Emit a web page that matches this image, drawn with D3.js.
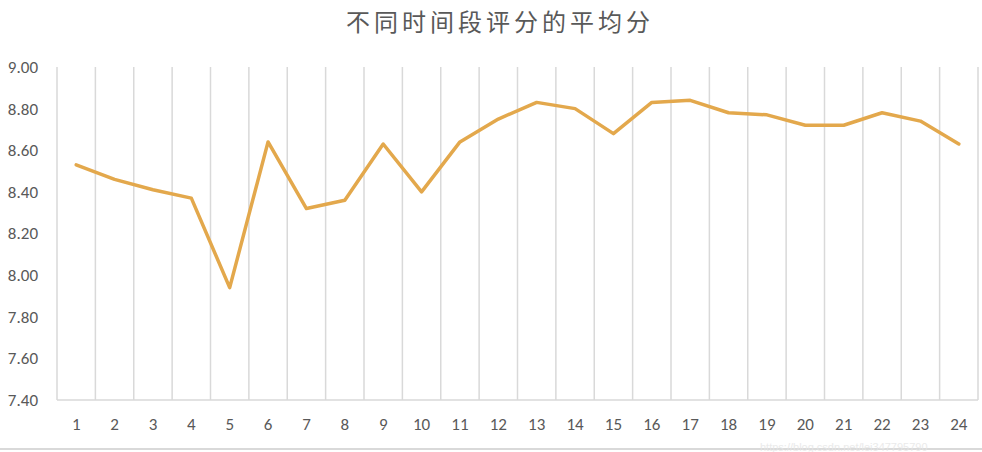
<!DOCTYPE html>
<html><head><meta charset="utf-8">
<script src="https://cdn.jsdelivr.net/npm/d3@7"></script>
<style>html,body{margin:0;padding:0;background:#fff;}</style>
</head><body>
<svg id="c" width="982" height="452"></svg>
<script>
const title = "不同时间段评分的平均分";
const categories = ["1","2","3","4","5","6","7","8","9","10","11","12","13","14","15","16","17","18","19","20","21","22","23","24"];
const values = [8.53,8.46,8.41,8.37,7.94,8.64,8.32,8.36,8.63,8.40,8.64,8.75,8.83,8.80,8.68,8.83,8.84,8.78,8.77,8.72,8.72,8.78,8.74,8.63];
const yTicks = [7.40,7.60,7.80,8.00,8.20,8.40,8.60,8.80,9.00];
const watermark = "https://blog.csdn.net/lei347795790";

(function(){
const svg = d3.select("#c");
const pL = 57, pR = 978, pT = 67, pB = 400;
const font = "Carlito, Calibri, 'Liberation Sans', 'Noto Sans', sans-serif";

const x = d3.scaleBand().domain(categories).range([pL, pR]);
const y = d3.scaleLinear().domain([7.4, 9.0]).range([pB, pT]);

const bounds = categories.map(c => x(c)).concat([x(categories[categories.length-1]) + x.bandwidth()]);
svg.append("g").selectAll("line").data(bounds).join("line")
  .attr("x1", d => d).attr("x2", d => d)
  .attr("y1", pT).attr("y2", pB)
  .attr("stroke", "#d9d9d9").attr("stroke-width", 1.5);

svg.append("line").attr("x1", pL).attr("x2", pR).attr("y1", pB).attr("y2", pB)
  .attr("stroke", "#d9d9d9").attr("stroke-width", 1.5);

const yAxis = d3.axisLeft(y).tickValues(yTicks).tickFormat(d3.format(".2f")).tickSize(0).tickPadding(19);
const gy = svg.append("g").attr("transform", `translate(${pL},0)`).call(yAxis);
gy.select(".domain").remove();
gy.selectAll("text").attr("fill", "#595959").style("font-family", font).style("font-size", "17px");

const xAxis = d3.axisBottom(x).tickSize(0).tickPadding(18);
const gx = svg.append("g").attr("transform", `translate(0,${pB})`).call(xAxis);
gx.select(".domain").remove();
gx.selectAll("text").attr("fill", "#595959").style("font-family", font).style("font-size", "17px");

const line = d3.line().x((d, i) => x(categories[i]) + x.bandwidth()/2).y(d => y(d));
svg.append("path").datum(values).attr("d", line)
  .attr("fill", "none").attr("stroke", "#E3A84C").attr("stroke-width", 3.5)
  .attr("stroke-linejoin", "round").attr("stroke-linecap", "round");

svg.append("text").attr("x", 500).attr("y", 31).attr("text-anchor", "middle")
  .attr("fill", "#595959").style("font-family", "'Noto Sans CJK SC', sans-serif").style("font-size", "24px")
  .style("letter-spacing", "4px")
  .text(title);

svg.append("line").attr("x1", 0).attr("x2", 982).attr("y1", 449).attr("y2", 449)
  .attr("stroke", "#d9d9d9").attr("stroke-width", 2);

svg.append("text").attr("x", 760).attr("y", 451)
  .attr("fill", "#e6e6e6").attr("opacity", 0.8)
  .style("font-family", "'Liberation Sans', sans-serif").style("font-size", "11px")
  .text(watermark);
})();
</script>
</body></html>
